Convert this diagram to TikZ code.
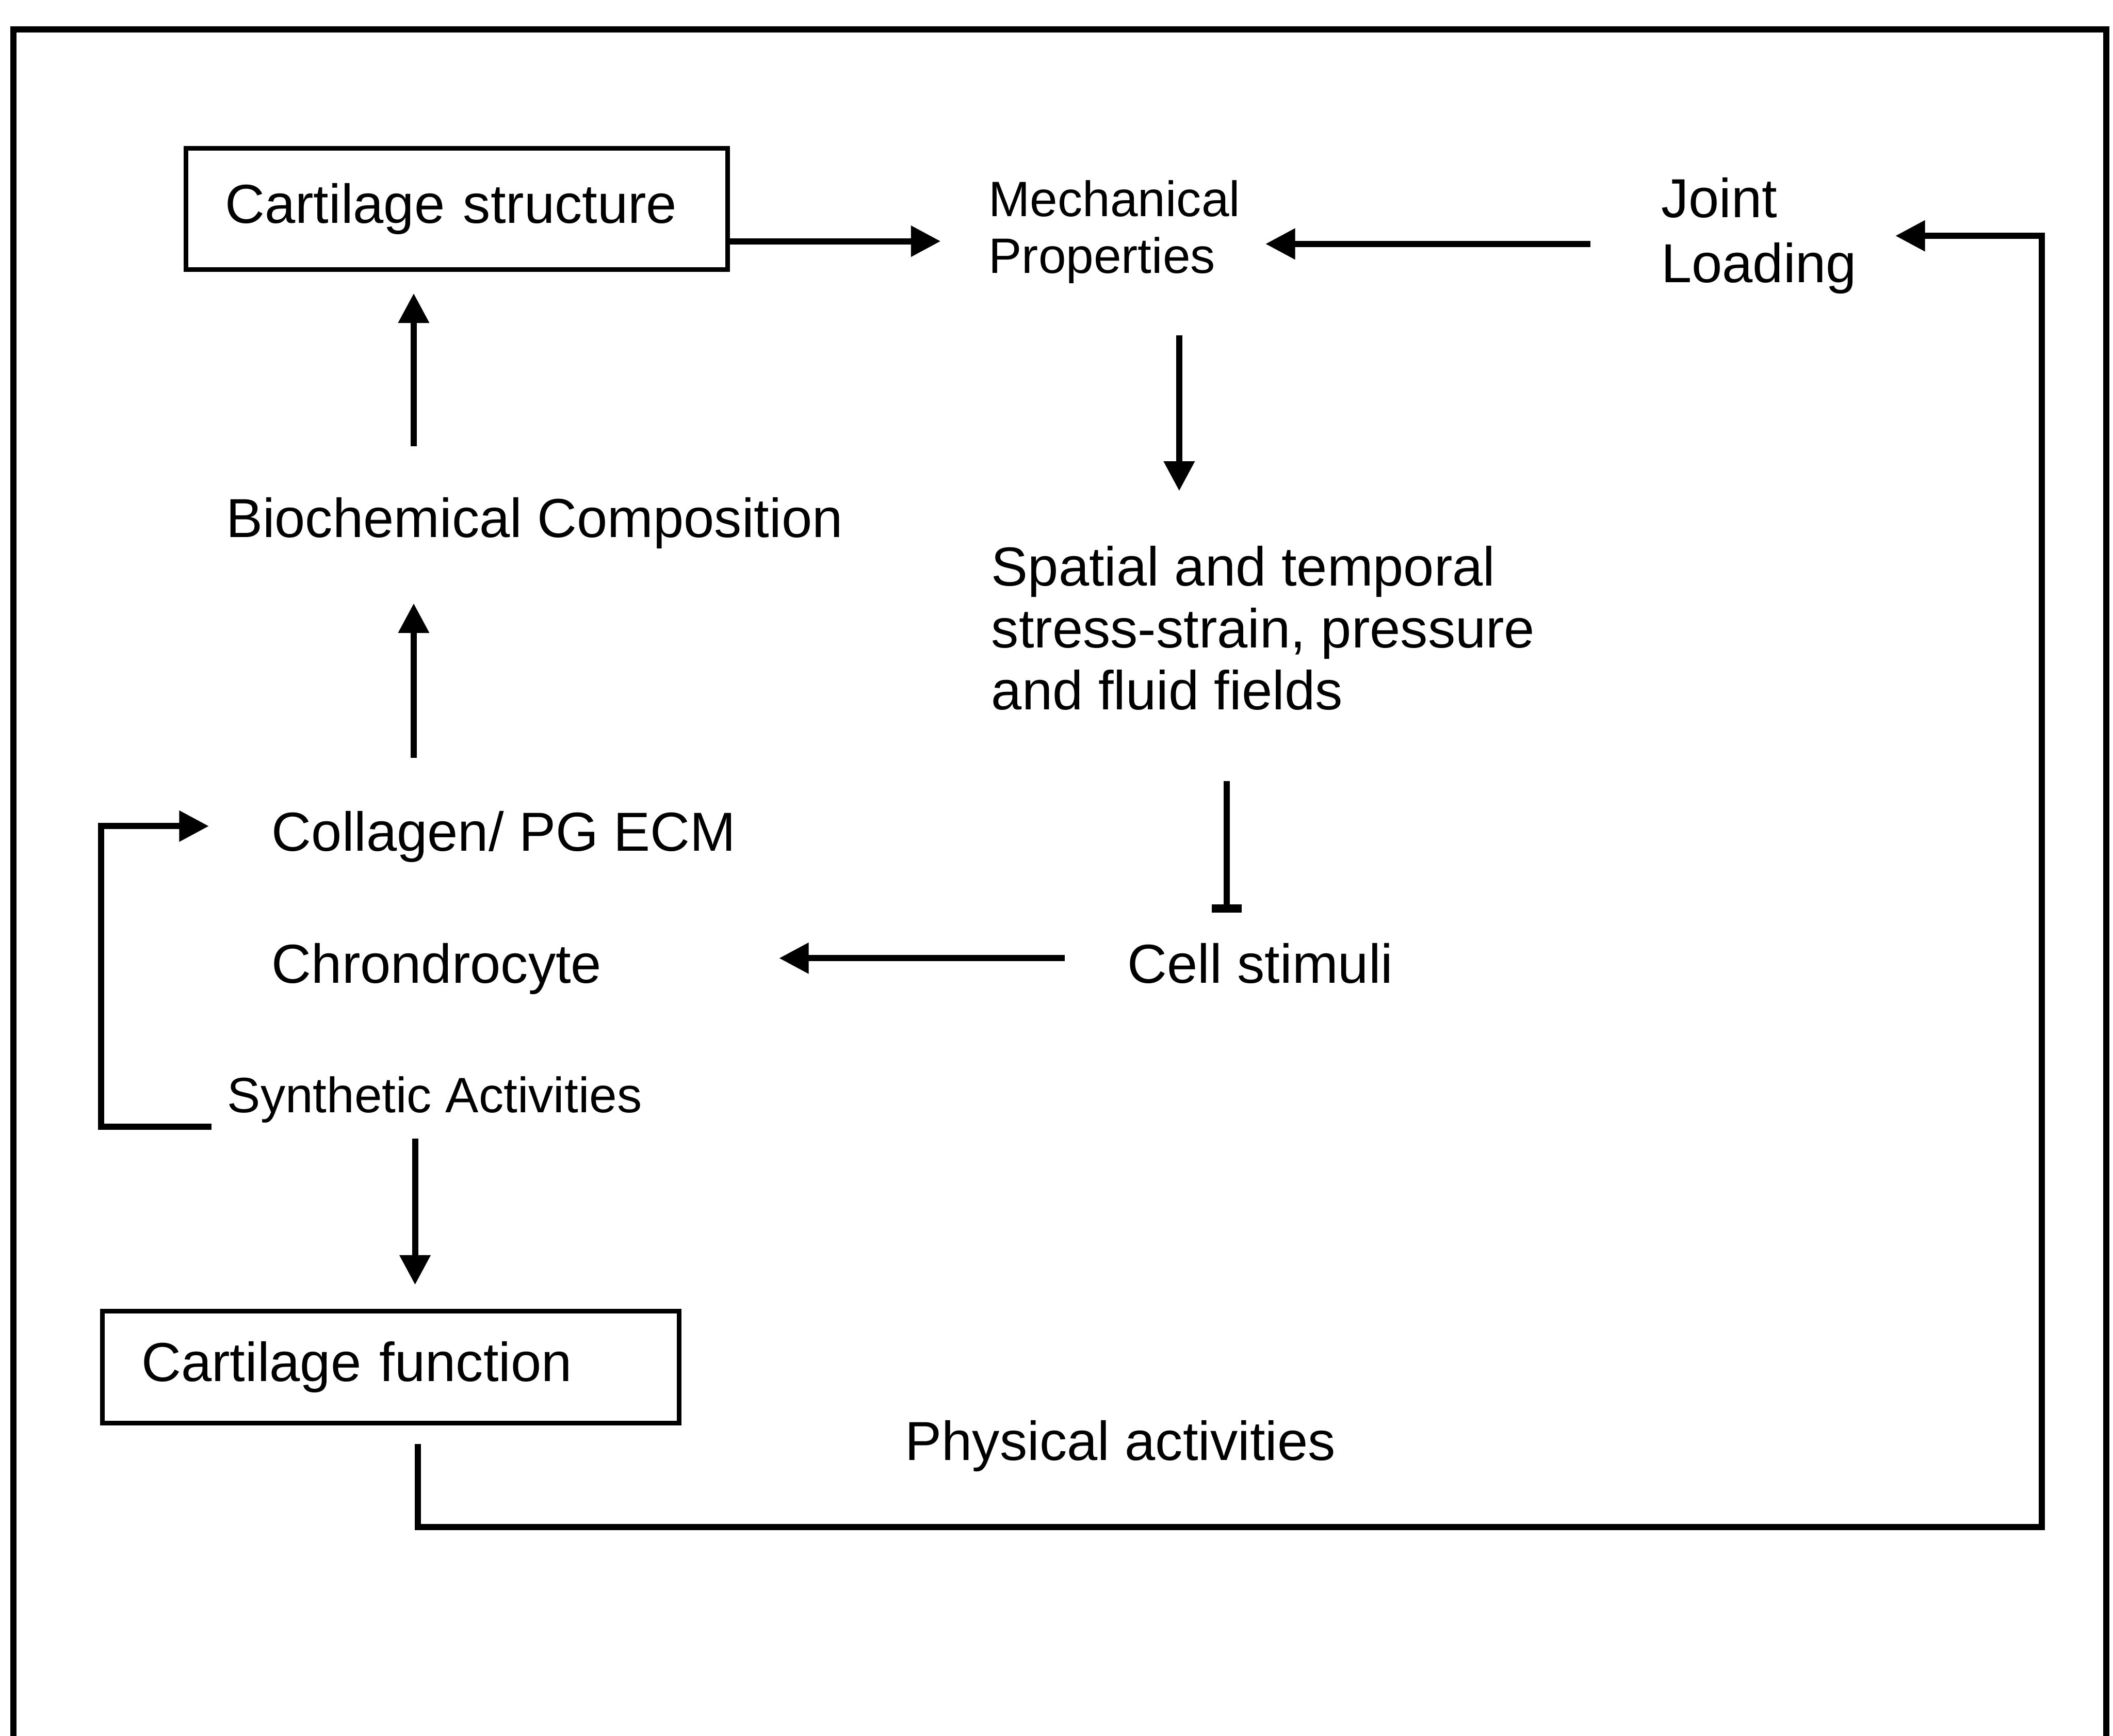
\documentclass[tikz,border=0pt]{standalone}
\usepackage{fontspec}
\setmainfont{Liberation Sans}
\usetikzlibrary{arrows.meta}

\begin{document}
\begin{tikzpicture}[
  every node/.style={font=\fontsize{11.6}{13.4}\selectfont, inner sep=0pt, anchor=west, align=left},
  box/.style={draw, line width=0.95pt, anchor=center, inner xsep=2.9mm},
  small/.style={font=\fontsize{10.5}{12}\selectfont},
  arr/.style={-{Triangle[length=2.2mm,width=2.2mm]}, line width=1.3pt},
  inh/.style={-{Bar[width=2.2mm,line width=1.8pt]}, line width=1.3pt},
  frame/.style={line width=1.3pt}
]
\useasboundingbox (0,0) rectangle (15.68,-12.88);
% Moldura
\draw[frame] (0.10,-12.88) -- (0.10,-0.22) -- (15.63,-0.22) -- (15.63,-12.88);
% Caixas
\node[box, text width=3.44cm, minimum height=0.9cm] (struct) at (3.39,-1.55) {Cartilage structure};
\node[box, text width=3.70cm, minimum height=0.83cm] (func) at (2.90,-10.145) {Cartilage function};
% Textos
\node[small] (mech) at (7.33,-1.72) {Mechanical\\Properties};
\node[font=\fontsize{11.6}{13.7}\selectfont] (joint) at (12.32,-1.75) {Joint\\Loading};
\node (biochem) at (1.67,-3.88) {Biochemical Composition};
\node[font=\fontsize{11.6}{13.1}\selectfont] (fields) at (7.35,-4.66) {Spatial and temporal\\stress-strain, pressure\\and fluid fields};
\node (collagen) at (2.01,-6.21) {Collagen/ PG ECM};
\node (chondro) at (2.01,-7.19) {Chrondrocyte};
\node (stim) at (8.36,-7.15) {Cell stimuli};
\node[small] (synth) at (1.68,-8.16) {Synthetic Activities};
\node (phys) at (6.71,-10.73) {Physical activities};
\coordinate (loop) at (15.15,-11.33);
% Setas
\draw[arr, shorten >=3.5mm] ([yshift=-2.4mm]struct.east) -- ([yshift=-2.4mm]struct.east -| mech.west);
\draw[arr, shorten <=5.2mm, shorten >=1.8mm] ([yshift=-0.6mm]joint.west) -- ([yshift=-0.6mm]joint.west -| mech.east);
\draw[arr, shorten <=3.8mm, shorten >=4mm] ([xshift=4.8mm]mech.south) -- ([xshift=4.8mm]mech.south |- fields.north);
\draw[inh, shorten <=5.2mm, shorten >=2.2mm] ([xshift=-2.7mm]fields.south) -- ([xshift=-2.7mm]fields.south |- stim.north);
\draw[arr, shorten <=4.6mm, shorten >=13.1mm] ([yshift=0.4mm]stim.west) -- ([yshift=0.4mm]stim.west -| chondro.east);
\draw[arr] ([shift={(-1.1mm,-2.0mm)}]synth.west) -| ([shift={(-12.6mm,0.8mm)}]collagen.west) -- ([shift={(-4.6mm,0.8mm)}]collagen.west);
\draw[arr, shorten <=3.9mm, shorten >=4.0mm] ([xshift=10.6mm]collagen.north west) -- ([xshift=10.6mm]collagen.north west |- biochem.south);
\draw[arr, shorten <=3.7mm, shorten >=1.6mm] ([xshift=14mm]biochem.north west) -- ([xshift=14mm]biochem.north west |- struct.south);
\draw[arr, shorten <=1.1mm, shorten >=1.8mm] ([xshift=14mm]synth.south west) -- ([xshift=14mm]synth.south west |- func.north);
\draw[arr, shorten <=1.4mm, shorten >=2.8mm] ([xshift=2mm]func.south) |- (loop) |- (joint.east);
\end{tikzpicture}
\end{document}
